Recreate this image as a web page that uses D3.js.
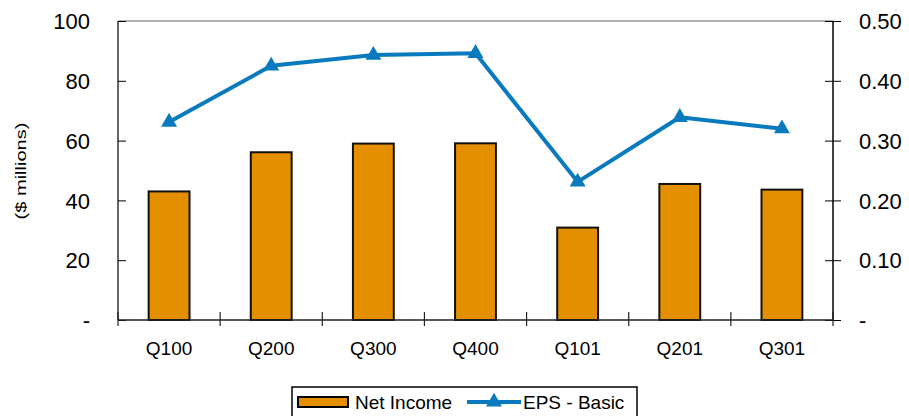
<!DOCTYPE html>
<html>
<head>
<meta charset="utf-8">
<script src="https://d3js.org/d3.v7.min.js"></script>
<style>
  body { margin: 0; background: #fff; }
  text { font-family: "Liberation Sans", Arial, sans-serif; fill: #000; }
</style>
</head>
<body>
<div id="chart"></div>
<script>
// quarters, net income ($ millions) and EPS
const quarters = ["Q100", "Q200", "Q300", "Q400", "Q101", "Q201", "Q301"]
const netIncome = [43, 56.1, 59, 59.1, 30.9, 45.5, 43.6]
const eps = [0.331, 0.425, 0.443, 0.446, 0.231, 0.339, 0.320]
const leftTicks = [0, 20, 40, 60, 80, 100]
const rightTicks = [0, 0.1, 0.2, 0.3, 0.4, 0.5]

const W = 909, H = 416
const margin = {top: 21, right: 76, bottom: 96, left: 118}
const width = W - margin.left - margin.right,
    height = H - margin.top - margin.bottom

const barColor = "#e38f00", lineColor = "#0a7abf"

const svg = d3.select("#chart")
    .append("svg")
    .attr("width", W)
    .attr("height", H)

const g = svg.append("g")
    .attr("transform", `translate(${margin.left}, ${margin.top})`)

const x = d3.scaleBand()
    .domain(quarters)
    .range([0, width])

const yL = d3.scaleLinear().domain([0, 100]).range([height, 0])
const yR = d3.scaleLinear().domain([0, 0.5]).range([height, 0])

// top border
g.append("line")
    .attr("x1", 0).attr("x2", width)
    .attr("y1", 0).attr("y2", 0)
    .style("stroke", "#999")
    .style("stroke-width", 1.5)

// bars
const barW = x.bandwidth() * 0.4
g.selectAll(".bar")
    .data(quarters)
    .join("rect")
    .attr("class", "bar")
    .attr("x", d => x(d) + (x.bandwidth() - barW) / 2)
    .attr("y", (d, i) => yL(netIncome[i]))
    .attr("width", barW)
    .attr("height", (d, i) => height - yL(netIncome[i]))
    .style("fill", barColor)
    .style("stroke", "#111")
    .style("stroke-width", 2)

// left axis
const fmtL = d => d === 0 ? "-" : d
const leftAxis = g.append("g")
    .call(d3.axisLeft(yL).tickValues(leftTicks).tickFormat(fmtL).tickSize(8).tickPadding(20))
leftAxis.selectAll(".tick line").attr("x2", 8)
leftAxis.select(".domain").attr("d", `M0,0V${height}`).style("stroke", "#333").style("stroke-width", 1.5)
leftAxis.selectAll("text").style("font-size", "22px").attr("dy", "0.35em")

// right axis
const fmtR = d => d === 0 ? "-" : d3.format(".2f")(d)
const rightAxis = g.append("g")
    .attr("transform", `translate(${width}, 0)`)
    .call(d3.axisRight(yR).tickValues(rightTicks).tickFormat(fmtR).tickSize(8).tickPadding(18))
rightAxis.selectAll(".tick line").attr("x1", -8)
rightAxis.select(".domain").attr("d", `M0,0V${height}`).style("stroke-width", 1.5)
rightAxis.selectAll("text").style("font-size", "22px").attr("dy", "0.35em")

// bottom axis with ticks between categories
const bottom = g.append("g").attr("transform", `translate(0, ${height})`)
bottom.append("line")
    .attr("x1", 0).attr("x2", width)
    .style("stroke", "#222").style("stroke-width", 1.5)
bottom.selectAll(".sep")
    .data(d3.range(quarters.length + 1))
    .join("line")
    .attr("class", "sep")
    .attr("x1", i => i * x.step()).attr("x2", i => i * x.step())
    .attr("y1", -8).attr("y2", 6)
    .style("stroke", "#222").style("stroke-width", 1.2)
bottom.selectAll(".qlabel")
    .data(quarters)
    .join("text")
    .attr("class", "qlabel")
    .attr("x", d => x(d) + x.bandwidth() / 2)
    .attr("y", 35)
    .attr("text-anchor", "middle")
    .style("font-size", "19px")
    .text(d => d)

// left axis title
svg.append("text")
    .attr("transform", `translate(26, 171) rotate(-90)`)
    .attr("text-anchor", "middle")
    .attr("textLength", 97)
    .attr("lengthAdjust", "spacingAndGlyphs")
    .style("font-size", "15.5px")
    .text("($ millions)")

// EPS line
const line = d3.line()
    .x((d, i) => x(quarters[i]) + x.bandwidth() / 2)
    .y(d => yR(d))
g.append("path")
    .datum(eps)
    .attr("d", line)
    .style("fill", "none")
    .style("stroke", lineColor)
    .style("stroke-width", 4)
    .style("stroke-linejoin", "round")

const tri = d3.symbol().type(d3.symbolTriangle).size(110)
g.selectAll(".marker")
    .data(eps)
    .join("path")
    .attr("class", "marker")
    .attr("transform", (d, i) => `translate(${x(quarters[i]) + x.bandwidth() / 2}, ${yR(d)})`)
    .attr("d", tri)
    .style("fill", lineColor)

// legend
const legend = svg.append("g").attr("transform", "translate(292, 387)")
legend.append("rect")
    .attr("width", 345).attr("height", 32)
    .style("fill", "#fff").style("stroke", "#000").style("stroke-width", 1.5)
legend.append("rect")
    .attr("x", 6).attr("y", 10).attr("width", 50).attr("height", 10)
    .style("fill", barColor).style("stroke", "#000").style("stroke-width", 2)
legend.append("text")
    .attr("x", 63).attr("y", 22)
    .style("font-size", "19px")
    .text("Net Income")
legend.append("line")
    .attr("x1", 175).attr("x2", 229).attr("y1", 15).attr("y2", 15)
    .style("stroke", lineColor).style("stroke-width", 4)
legend.append("path")
    .attr("transform", "translate(202, 15)")
    .attr("d", tri)
    .style("fill", lineColor)
legend.append("text")
    .attr("x", 231).attr("y", 22)
    .style("font-size", "19px")
    .text("EPS - Basic")
</script>
</body>
</html>
